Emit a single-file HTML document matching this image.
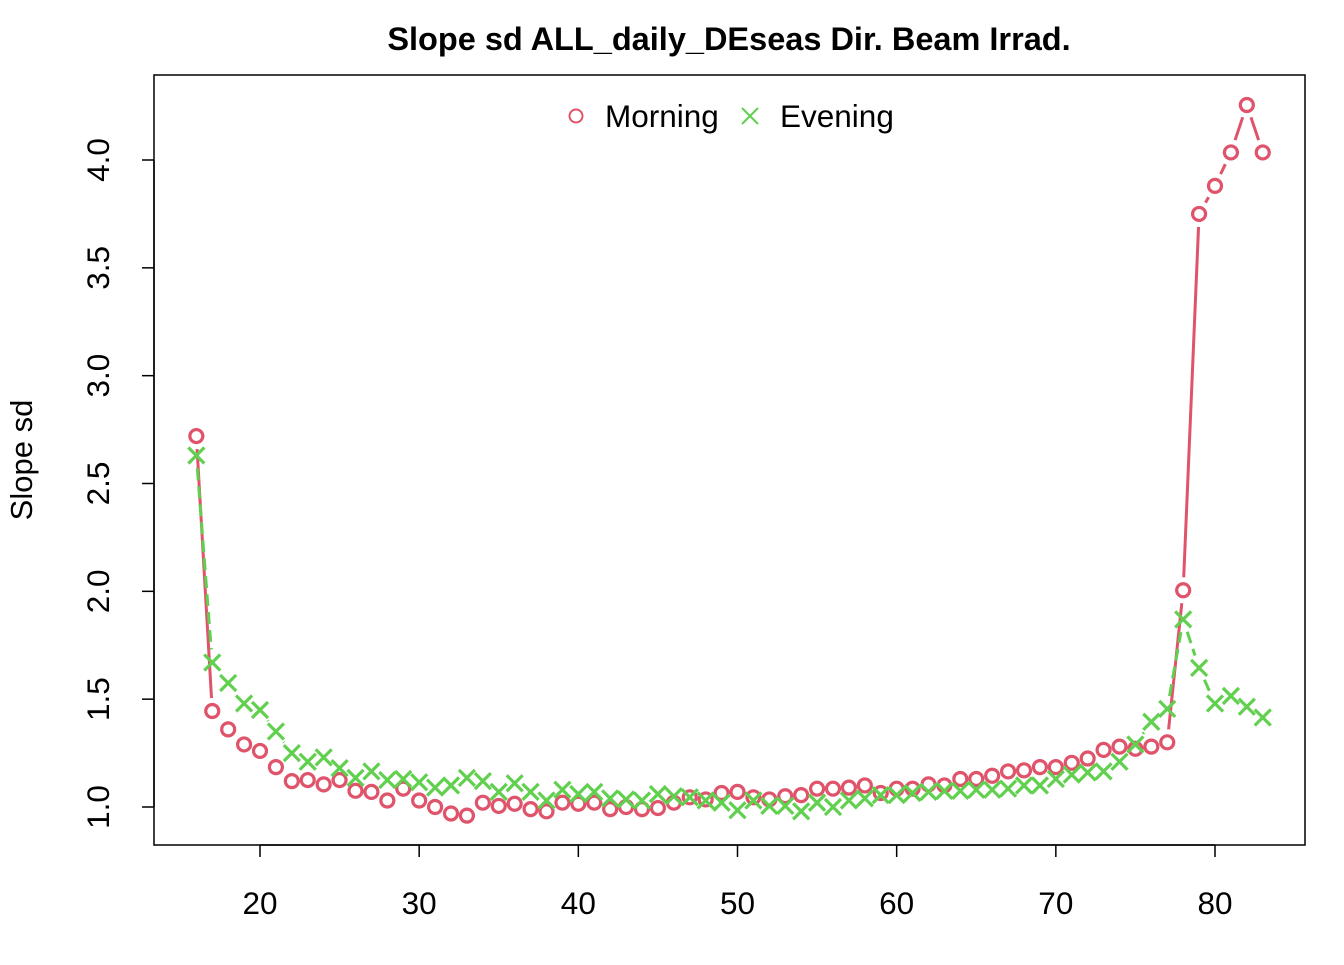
<!DOCTYPE html>
<html><head><meta charset="utf-8"><style>
body{margin:0;background:#fff}
svg text{font-family:"Liberation Sans",Arial,sans-serif}
</style></head><body>
<svg id="chart" width="1344" height="960" xmlns="http://www.w3.org/2000/svg">
<rect width="1344" height="960" fill="#fff"/>
<text x="729" y="50" font-size="32.5" font-weight="bold" text-anchor="middle">Slope sd ALL_daily_DEseas Dir. Beam Irrad.</text>
<rect x="154" y="75" width="1151" height="770" fill="none" stroke="#000" stroke-width="1.5"/>
<text transform="translate(32,460) rotate(-90)" font-size="31" text-anchor="middle">Slope sd</text>
<g id="axes"></g>
<g id="lines"></g>
<g id="points"></g>
<g>
<circle cx="576" cy="116" r="6.5" fill="none" stroke="#DF536B" stroke-width="2"/>
<text x="605" y="127" font-size="31.5">Morning</text>
<path d="M742,108 L758,124 M758,108 L742,124" stroke="#61D04F" stroke-width="2"/>
<text x="780" y="127" font-size="31.5">Evening</text>
</g>
</svg>
<script>
const ages = [];
for (let a = 16; a <= 83; a++) ages.push(a);
const morning = [2.72,1.445,1.36,1.29,1.26,1.185,1.12,1.125,1.105,1.125,1.075,1.07,1.03,1.085,1.03,1.0,0.97,0.96,1.02,1.005,1.015,0.99,0.98,1.02,1.015,1.02,0.99,1.0,0.99,0.995,1.02,1.045,1.035,1.065,1.07,1.045,1.035,1.05,1.055,1.085,1.085,1.09,1.10,1.065,1.085,1.085,1.105,1.1,1.13,1.13,1.145,1.165,1.17,1.185,1.185,1.205,1.225,1.265,1.28,1.27,1.28,1.30,2.005,3.75,3.88,4.035,4.255,4.035];
const evening = [2.63,1.67,1.575,1.48,1.45,1.35,1.25,1.21,1.23,1.18,1.135,1.165,1.125,1.13,1.115,1.09,1.1,1.135,1.12,1.07,1.11,1.07,1.03,1.08,1.06,1.07,1.04,1.035,1.03,1.06,1.05,1.045,1.03,1.02,0.985,1.03,1.005,1.005,0.98,1.02,1.0,1.03,1.04,1.055,1.055,1.065,1.07,1.075,1.075,1.08,1.08,1.085,1.1,1.1,1.13,1.15,1.16,1.165,1.21,1.29,1.395,1.455,1.87,1.645,1.48,1.515,1.465,1.415];
const xTicks = [20,30,40,50,60,70,80];
const yTicks = [1.0,1.5,2.0,2.5,3.0,3.5,4.0];
const yTickLabels = ["1.0","1.5","2.0","2.5","3.0","3.5","4.0"];

const NS = "http://www.w3.org/2000/svg";
const xs = v => 260 + (v - 20) * (1215 - 260) / 60;
const ys = v => 807 - (v - 1) * (807 - 160) / 3;
function mk(tag, attrs, parent) {
  const e = document.createElementNS(NS, tag);
  for (const k in attrs) e.setAttribute(k, attrs[k]);
  parent.appendChild(e);
  return e;
}
const axes = document.getElementById('axes');
mk('line', {x1: xs(20), x2: xs(80), y1: 845, y2: 845, stroke: '#000', 'stroke-width': 1.5}, axes);
xTicks.forEach(t => {
  const l = mk('line', {x1: xs(t), x2: xs(t), y1: 845, y2: 857, stroke: '#000', 'stroke-width': 1.5}, axes);
  
  
  const tx = mk('text', {x: xs(t), y: 914, 'font-size': 31.5, 'text-anchor': 'middle'}, axes);
  tx.textContent = t;
  
  
});
mk('line', {x1: 154, x2: 154, y1: ys(1), y2: ys(4), stroke: '#000', 'stroke-width': 1.5}, axes);
yTicks.forEach((t, i) => {
  const l = mk('line', {x1: 142, x2: 154, y1: ys(t), y2: ys(t), stroke: '#000', 'stroke-width': 1.5}, axes);
  
  
  const tx = mk('text', {transform: `translate(109,${ys(t)}) rotate(-90)`, 'font-size': 31.5, 'text-anchor': 'middle'}, axes);
  tx.textContent = yTickLabels[i];
  
  
});

const lines = document.getElementById('lines');
const pts = document.getElementById('points');
function series(vals, color, dash, kind) {
  const gap = 13;
  for (let i = 0; i < vals.length - 1; i++) {
    const x1 = xs(ages[i]), y1 = ys(vals[i]), x2 = xs(ages[i + 1]), y2 = ys(vals[i + 1]);
    const d = Math.hypot(x2 - x1, y2 - y1);
    if (d <= 2 * gap) continue;
    const ux = (x2 - x1) / d, uy = (y2 - y1) / d;
    const seg = mk('line', {x1: x1 + ux * gap, y1: y1 + uy * gap, x2: x2 - ux * gap, y2: y2 - uy * gap, stroke: color, 'stroke-width': 3, 'stroke-dasharray': dash}, lines);
    
    
  }
  vals.forEach((v, i) => {
    const x = xs(ages[i]), y = ys(v);
    let p;
    if (kind === 'morning') {
      p = mk('circle', {cx: x, cy: y, r: 6.5, fill: 'none', stroke: color, 'stroke-width': 3.2}, pts);
    } else {
      p = mk('path', {d: `M${x-8},${y-8}L${x+8},${y+8}M${x+8},${y-8}L${x-8},${y+8}`, stroke: color, 'stroke-width': 3.2}, pts);
    }
    
    
  });
}
series(morning, '#DF536B', 'none', 'morning');
series(evening, '#61D04F', '12,6', 'evening');
</script>
</body></html>
